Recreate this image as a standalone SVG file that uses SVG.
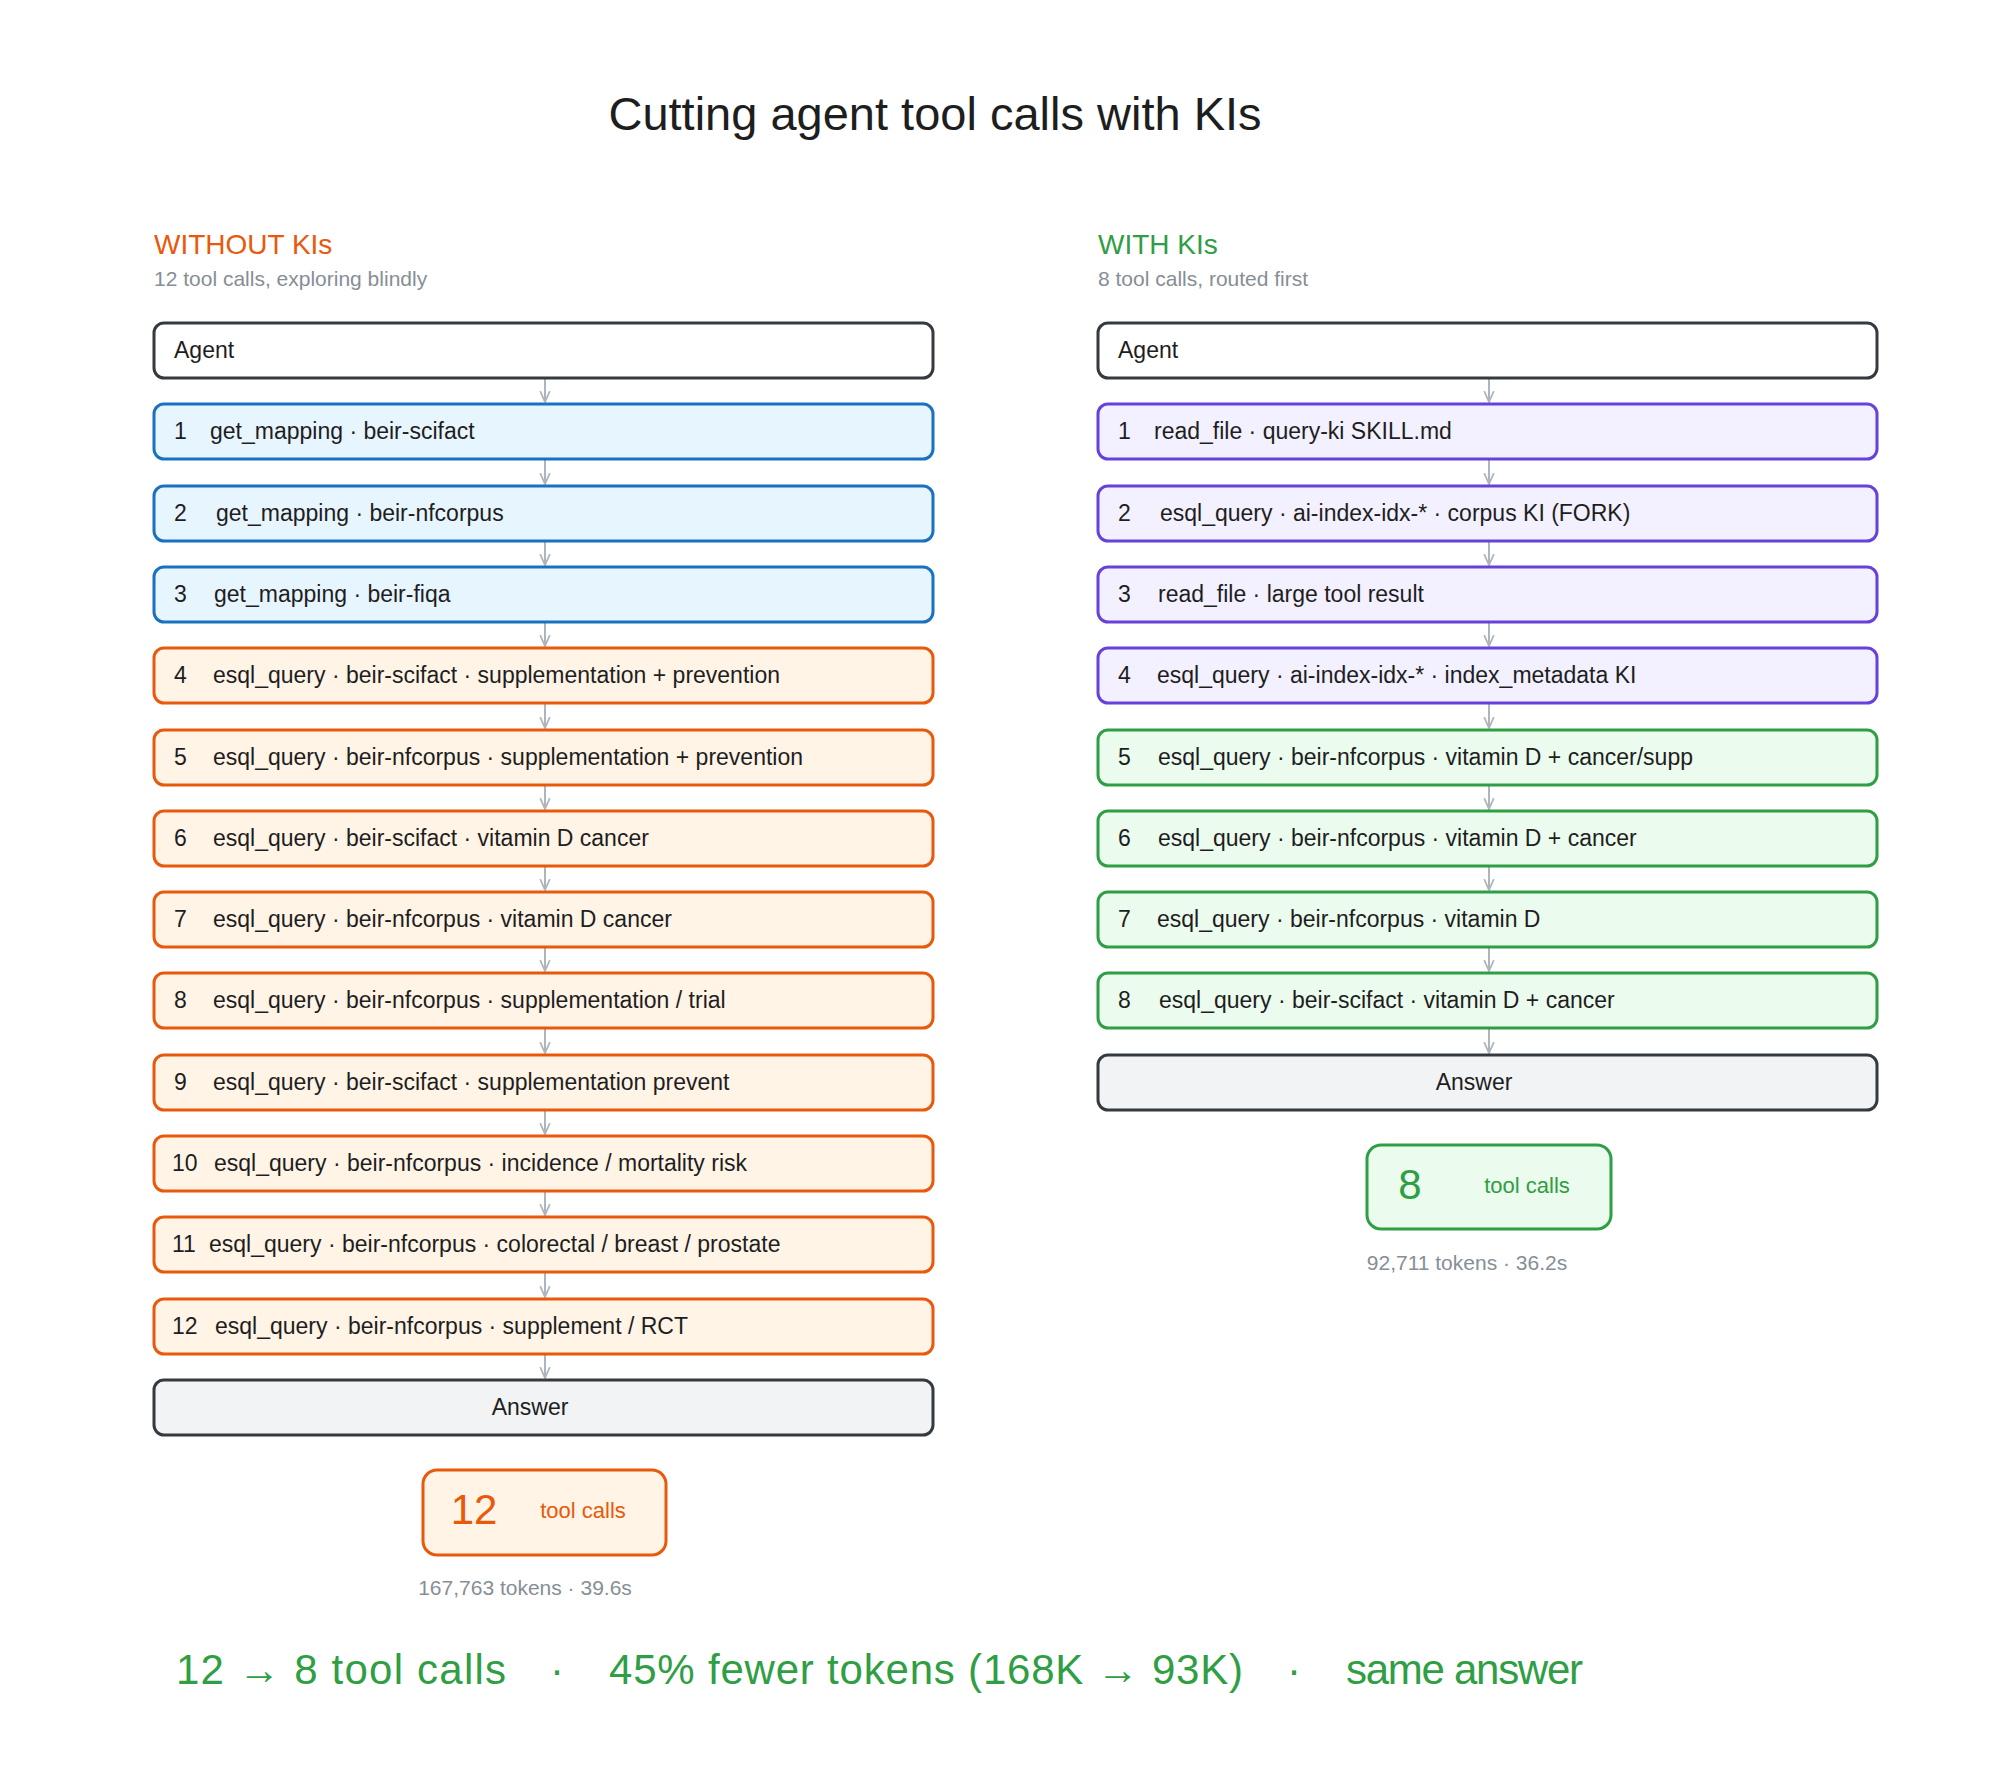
<svg xmlns="http://www.w3.org/2000/svg" width="1999" height="1789" viewBox="0 0 1999 1789">
<defs>
<marker id="ah" viewBox="0 0 10 10" refX="9" refY="5" markerWidth="6" markerHeight="6" orient="auto"><path d="M0,1 L9,5 L0,9" fill="none" stroke="#adb5bd" stroke-width="1.5"/></marker>
</defs>
<style>
text{font-family:"Liberation Sans",Arial,sans-serif}
.b{stroke-width:3}
.ag{fill:#ffffff;stroke:#343a40}
.an{fill:#f1f3f5;stroke:#343a40}
.bl{fill:#e7f5ff;stroke:#1971c2}
.or{fill:#fff4e6;stroke:#e8590c}
.pu{fill:#f3f0ff;stroke:#6741d9}
.gr{fill:#ebfbee;stroke:#2f9e44}
.t{font-size:23px;fill:#1e1e1e}
.c{stroke:#adb5bd;stroke-width:2;marker-end:url(#ah)}
.sub{font-size:21px;fill:#868e96}
</style>
<rect width="1999" height="1789" fill="#ffffff"/>
<text x="935" y="130" font-size="47" text-anchor="middle" fill="#1e1e1e">Cutting agent tool calls with KIs</text>
<text x="154" y="254" font-size="28" fill="#e8590c">WITHOUT KIs</text>
<text x="154" y="286" class="sub">12 tool calls, exploring blindly</text>
<text x="1098" y="254" font-size="28" fill="#2f9e44">WITH KIs</text>
<text x="1098" y="286" class="sub">8 tool calls, routed first</text>
<g id="connectors">
<line class="c" x1="545" y1="379" x2="545" y2="402"/><line class="c" x1="545" y1="460" x2="545" y2="484"/><line class="c" x1="545" y1="542" x2="545" y2="565"/><line class="c" x1="545" y1="623" x2="545" y2="646"/><line class="c" x1="545" y1="704" x2="545" y2="728"/><line class="c" x1="545" y1="786" x2="545" y2="809"/><line class="c" x1="545" y1="867" x2="545" y2="890"/><line class="c" x1="545" y1="948" x2="545" y2="971"/><line class="c" x1="545" y1="1029" x2="545" y2="1053"/><line class="c" x1="545" y1="1111" x2="545" y2="1134"/><line class="c" x1="545" y1="1192" x2="545" y2="1215"/><line class="c" x1="545" y1="1273" x2="545" y2="1297"/><line class="c" x1="545" y1="1355" x2="545" y2="1378"/>
<line class="c" x1="1489" y1="379" x2="1489" y2="402"/><line class="c" x1="1489" y1="460" x2="1489" y2="484"/><line class="c" x1="1489" y1="542" x2="1489" y2="565"/><line class="c" x1="1489" y1="623" x2="1489" y2="646"/><line class="c" x1="1489" y1="704" x2="1489" y2="728"/><line class="c" x1="1489" y1="786" x2="1489" y2="809"/><line class="c" x1="1489" y1="867" x2="1489" y2="890"/><line class="c" x1="1489" y1="948" x2="1489" y2="971"/><line class="c" x1="1489" y1="1029" x2="1489" y2="1053"/>
</g>
<g id="L0"><rect class="b ag" x="154" y="323" width="779" height="55" rx="10"/><text class="t" x="174" y="358">Agent</text></g>
<g id="L1"><rect class="b bl" x="154" y="404" width="779" height="55" rx="10"/><text class="t" x="174" y="439">1</text><text class="t" x="210" y="439">get_mapping · beir-scifact</text></g>
<g id="L2"><rect class="b bl" x="154" y="486" width="779" height="55" rx="10"/><text class="t" x="174" y="521">2</text><text class="t" x="216" y="521">get_mapping · beir-nfcorpus</text></g>
<g id="L3"><rect class="b bl" x="154" y="567" width="779" height="55" rx="10"/><text class="t" x="174" y="602">3</text><text class="t" x="214" y="602">get_mapping · beir-fiqa</text></g>
<g id="L4"><rect class="b or" x="154" y="648" width="779" height="55" rx="10"/><text class="t" x="174" y="683">4</text><text class="t" x="213" y="683">esql_query · beir-scifact · supplementation + prevention</text></g>
<g id="L5"><rect class="b or" x="154" y="730" width="779" height="55" rx="10"/><text class="t" x="174" y="765">5</text><text class="t" x="213" y="765">esql_query · beir-nfcorpus · supplementation + prevention</text></g>
<g id="L6"><rect class="b or" x="154" y="811" width="779" height="55" rx="10"/><text class="t" x="174" y="846">6</text><text class="t" x="213" y="846">esql_query · beir-scifact · vitamin D cancer</text></g>
<g id="L7"><rect class="b or" x="154" y="892" width="779" height="55" rx="10"/><text class="t" x="174" y="927">7</text><text class="t" x="213" y="927">esql_query · beir-nfcorpus · vitamin D cancer</text></g>
<g id="L8"><rect class="b or" x="154" y="973" width="779" height="55" rx="10"/><text class="t" x="174" y="1008">8</text><text class="t" x="213" y="1008">esql_query · beir-nfcorpus · supplementation / trial</text></g>
<g id="L9"><rect class="b or" x="154" y="1055" width="779" height="55" rx="10"/><text class="t" x="174" y="1090">9</text><text class="t" x="213" y="1090">esql_query · beir-scifact · supplementation prevent</text></g>
<g id="L10"><rect class="b or" x="154" y="1136" width="779" height="55" rx="10"/><text class="t" x="172" y="1171">10</text><text class="t" x="214" y="1171">esql_query · beir-nfcorpus · incidence / mortality risk</text></g>
<g id="L11"><rect class="b or" x="154" y="1217" width="779" height="55" rx="10"/><text class="t" x="172" y="1252">11</text><text class="t" x="209" y="1252">esql_query · beir-nfcorpus · colorectal / breast / prostate</text></g>
<g id="L12"><rect class="b or" x="154" y="1299" width="779" height="55" rx="10"/><text class="t" x="172" y="1334">12</text><text class="t" x="215" y="1334">esql_query · beir-nfcorpus · supplement / RCT</text></g>
<g id="L13"><rect class="b an" x="154" y="1380" width="779" height="55" rx="10"/><text class="t" x="530" y="1415" text-anchor="middle">Answer</text></g>
<g id="R0"><rect class="b ag" x="1098" y="323" width="779" height="55" rx="10"/><text class="t" x="1118" y="358">Agent</text></g>
<g id="R1"><rect class="b pu" x="1098" y="404" width="779" height="55" rx="10"/><text class="t" x="1118" y="439">1</text><text class="t" x="1154" y="439">read_file · query-ki SKILL.md</text></g>
<g id="R2"><rect class="b pu" x="1098" y="486" width="779" height="55" rx="10"/><text class="t" x="1118" y="521">2</text><text class="t" x="1160" y="521">esql_query · ai-index-idx-* · corpus KI (FORK)</text></g>
<g id="R3"><rect class="b pu" x="1098" y="567" width="779" height="55" rx="10"/><text class="t" x="1118" y="602">3</text><text class="t" x="1158" y="602">read_file · large tool result</text></g>
<g id="R4"><rect class="b pu" x="1098" y="648" width="779" height="55" rx="10"/><text class="t" x="1118" y="683">4</text><text class="t" x="1157" y="683">esql_query · ai-index-idx-* · index_metadata KI</text></g>
<g id="R5"><rect class="b gr" x="1098" y="730" width="779" height="55" rx="10"/><text class="t" x="1118" y="765">5</text><text class="t" x="1158" y="765">esql_query · beir-nfcorpus · vitamin D + cancer/supp</text></g>
<g id="R6"><rect class="b gr" x="1098" y="811" width="779" height="55" rx="10"/><text class="t" x="1118" y="846">6</text><text class="t" x="1158" y="846">esql_query · beir-nfcorpus · vitamin D + cancer</text></g>
<g id="R7"><rect class="b gr" x="1098" y="892" width="779" height="55" rx="10"/><text class="t" x="1118" y="927">7</text><text class="t" x="1157" y="927">esql_query · beir-nfcorpus · vitamin D</text></g>
<g id="R8"><rect class="b gr" x="1098" y="973" width="779" height="55" rx="10"/><text class="t" x="1118" y="1008">8</text><text class="t" x="1159" y="1008">esql_query · beir-scifact · vitamin D + cancer</text></g>
<g id="R9"><rect class="b an" x="1098" y="1055" width="779" height="55" rx="10"/><text class="t" x="1474" y="1090" text-anchor="middle">Answer</text></g>
<g id="sumL"><rect x="423" y="1470" width="243" height="85" rx="14" fill="#fff4e6" stroke="#e8590c" stroke-width="3"/><text x="474" y="1524" font-size="42" text-anchor="middle" fill="#e8590c">12</text><text x="583" y="1518" font-size="22" text-anchor="middle" fill="#e8590c">tool calls</text></g>
<text x="525" y="1595" class="sub" font-size="19" text-anchor="middle">167,763 tokens  ·  39.6s</text>
<g id="sumR"><rect x="1367" y="1145" width="244" height="84" rx="14" fill="#ebfbee" stroke="#2f9e44" stroke-width="3"/><text x="1410" y="1199" font-size="42" text-anchor="middle" fill="#2f9e44">8</text><text x="1527" y="1193" font-size="22" text-anchor="middle" fill="#2f9e44">tool calls</text></g>
<text x="1467" y="1270" class="sub" font-size="19" text-anchor="middle">92,711 tokens  ·  36.2s</text>
<g font-size="42" fill="#2f9e44">
<text x="176" y="1684" textLength="330">12 → 8 tool calls</text>
<text x="557" y="1684" text-anchor="middle">·</text>
<text x="609" y="1684" textLength="634">45% fewer tokens (168K → 93K)</text>
<text x="1294" y="1684" text-anchor="middle">·</text>
<text x="1346" y="1684" textLength="237">same answer</text>
</g>
</svg>
